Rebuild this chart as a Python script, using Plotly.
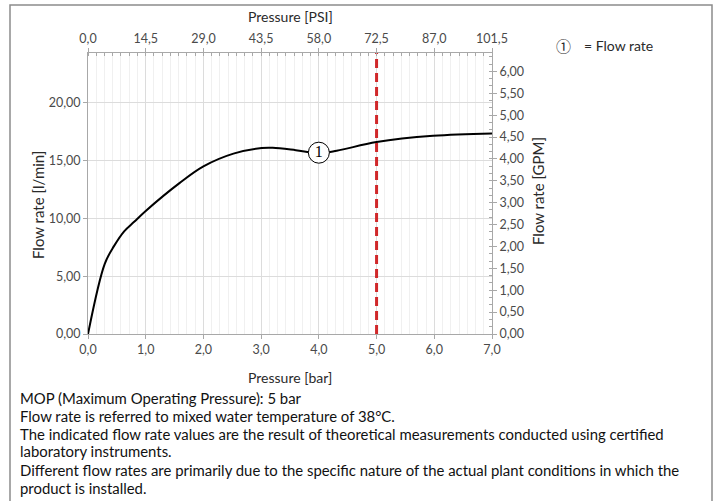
import plotly.graph_objects as go

# Data
pressure_bar = [0.0, 0.29, 0.45, 0.63, 0.8, 0.99, 1.59, 2.0, 2.52, 3.01, 3.2, 3.6, 4.0, 4.31, 5.0, 5.98, 7.0]
flow_lpm     = [0.0, 6.07, 7.6, 8.9, 9.7, 10.6, 13.07, 14.5, 15.6, 16.08, 16.1, 15.9, 15.65, 15.85, 16.6, 17.14, 17.34]
mop_bar = 5.0
marker_bar = [4.0]
marker_flow = [15.68]
marker_label = ["1"]

x_ticks_bar = [0, 1, 2, 3, 4, 5, 6, 7]
psi_ticks = [0.0, 14.5, 29.0, 43.5, 58.0, 72.5, 87.0, 101.5]
lpm_ticks = [0, 5, 10, 15, 20]
gpm_ticks = [0.0, 0.5, 1.0, 1.5, 2.0, 2.5, 3.0, 3.5, 4.0, 4.5, 5.0, 5.5, 6.0]

Y_MAX = 24.3
GPM_MAX = Y_MAX / 3.785

notes = [
    "MOP (Maximum Operating Pressure): 5 bar",
    "Flow rate is referred to mixed water temperature of 38°C.",
    "The indicated flow rate values are the result of theoretical measurements conducted using certified",
    "laboratory instruments.",
    "Different flow rates are primarily due to the specific nature of the actual plant conditions in which the",
    "product is installed.",
]

FONT = "Lato"
W, H = 715, 501
L, R, T, B = 88, 223, 53, 167
PW, PH = W - L - R, H - T - B

def px(x):
    return (x - L) / PW

def py(y):
    return (H - B - y) / PH

fig = go.Figure()

fig.add_trace(go.Scatter(x=pressure_bar, y=flow_lpm, mode="lines",
                         line=dict(color="black", width=2, shape="spline", smoothing=1.0),
                         showlegend=False, hoverinfo="skip"))
fig.add_trace(go.Scatter(x=[mop_bar, mop_bar], y=[0, Y_MAX], mode="lines",
                         line=dict(color="#d0282a", width=3, dash="9px,5px"),
                         showlegend=False, hoverinfo="skip"))
fig.add_trace(go.Scatter(x=marker_bar, y=marker_flow, mode="markers+text",
                         marker=dict(size=21, color="white", line=dict(color="black", width=1)),
                         text=marker_label, textposition="middle center",
                         textfont=dict(family="Liberation Serif", size=16, color="black"),
                         showlegend=False, hoverinfo="skip"))
# invisible traces to activate secondary axes
fig.add_trace(go.Scatter(x=[0], y=[None], xaxis="x2", yaxis="y", showlegend=False, hoverinfo="skip"))
fig.add_trace(go.Scatter(x=[0], y=[None], xaxis="x", yaxis="y2", showlegend=False, hoverinfo="skip"))

tickfont = dict(family=FONT, size=12.5, color="#4a4a4a")
fig.update_layout(
    width=W, height=H,
    margin=dict(l=L, r=R, t=T, b=B),
    paper_bgcolor="white", plot_bgcolor="white",
    separators=",.",
    font=dict(family=FONT, color="#333"),
    xaxis=dict(range=[0, 7], tickvals=x_ticks_bar, tickformat=".1f", tickfont=tickfont,
               showgrid=True, gridcolor="#dcdcdc", gridwidth=1,
               minor=dict(dtick=1/7, showgrid=True, gridcolor="#f0f0f0", ticks=""),
               showline=True, linecolor="#a8a8a8", linewidth=1, ticks="outside", ticklen=4,
               tickcolor="#a8a8a8", zeroline=False, fixedrange=True),
    xaxis2=dict(range=[0, 101.5], tickvals=psi_ticks, tickformat=".1f", tickfont=tickfont,
                overlaying="x", side="top", showgrid=False, showline=True,
                linecolor="#a8a8a8", linewidth=1, ticks="outside", ticklen=4, tickcolor="#a8a8a8",
                minor=dict(dtick=14.5/7, ticks="inside", ticklen=3, tickcolor="#a8a8a8"),
                zeroline=False, fixedrange=True),
    yaxis=dict(range=[0, Y_MAX], tickvals=lpm_ticks, tickformat=".2f", tickfont=tickfont,
               showgrid=True, gridcolor="#dcdcdc", gridwidth=1,
               showline=True, linecolor="#a8a8a8", linewidth=1, ticks="outside", ticklen=4,
               tickcolor="#a8a8a8", zeroline=False, fixedrange=True),
    yaxis2=dict(range=[0, GPM_MAX], tickvals=gpm_ticks, tickformat=".2f", tickfont=tickfont,
                overlaying="y", side="right", showgrid=False, showline=True,
                linecolor="#a8a8a8", linewidth=1, ticks="outside", ticklen=4, tickcolor="#a8a8a8",
                minor=dict(dtick=0.5/3, ticks="inside", ticklen=3, tickcolor="#a8a8a8"),
                zeroline=False, fixedrange=True),
)

title_font = dict(family=FONT, size=14, color="#2a2a2a")
ytitle_font = dict(family=FONT, size=15, color="#2a2a2a")
ann = [
    dict(x=0.5, y=py(16), text="Pressure [PSI]", font=title_font),
    dict(x=0.5, y=py(377), text="Pressure [bar]", font=title_font),
    dict(x=px(27), y=py(205), text="Flow rate [l/min]", font=ytitle_font, textangle=-90),
    dict(x=px(549), y=py(191), text="Flow rate [GPM]", font=ytitle_font, textangle=-90),
    dict(x=px(582), y=py(46), text="= Flow rate", font=title_font, xanchor="left"),
    dict(x=px(573), y=py(46), text="①", font=dict(family="Noto Sans CJK JP", size=15, color="#2a2a2a")),
]
line_y = [398, 416, 434, 451, 470, 488]
for t, yy in zip(notes, line_y):
    ann.append(dict(x=px(18), y=py(yy), text=t, xanchor="left",
                    font=dict(family=FONT, size=14.9, color="#111")))
for a in ann:
    a.setdefault("xref", "paper")
    a.setdefault("yref", "paper")
    a.setdefault("showarrow", False)
    a.setdefault("yanchor", "middle")
    fig.add_annotation(**a)

fig.add_shape(type="rect", xref="paper", yref="paper",
              x0=px(10), x1=px(712), y0=py(5), y1=py(520),
              line=dict(color="#8c8c8c", width=1.5))

fig.write_html("out.html", config={"displayModeBar": False},
               post_script="document.body.style.margin='0';document.body.style.overflow='hidden';")
